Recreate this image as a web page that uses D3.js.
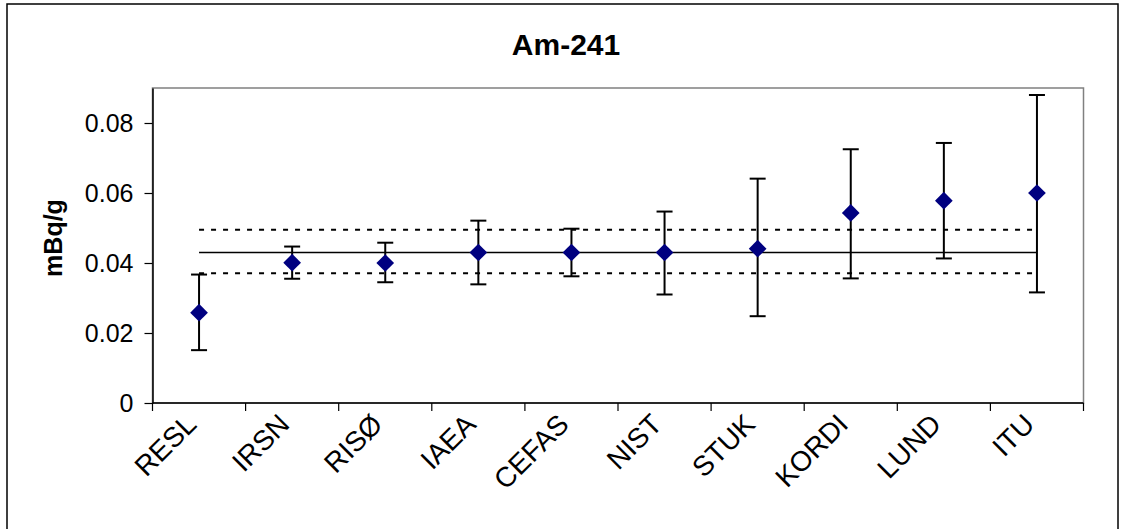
<!DOCTYPE html>
<html>
<head>
<meta charset="utf-8">
<script src="https://cdn.jsdelivr.net/npm/d3@7"></script>
<style>
  html, body { margin: 0; padding: 0; background: #fff; }
  svg { display: block; font-family: "Liberation Sans", Arial, sans-serif; }
</style>
</head>
<body>
<svg id="chart" width="1125" height="529"></svg>
<script>
// ---- data ----
const categories = ["RESL", "IRSN", "RISØ", "IAEA", "CEFAS", "NIST", "STUK", "KORDI", "LUND", "ITU"];
const values     = [0.0258, 0.0401, 0.0400, 0.0430, 0.0430, 0.0430, 0.0441, 0.0543, 0.0578, 0.0600];
const errLow     = [0.0151, 0.0355, 0.0345, 0.0339, 0.0362, 0.0310, 0.0248, 0.0356, 0.0413, 0.0316];
const errHigh    = [0.0367, 0.0447, 0.0458, 0.0521, 0.0498, 0.0547, 0.0641, 0.0725, 0.0743, 0.0880];
const refMean    = 0.0430;
const refLow     = 0.0371;
const refHigh    = 0.0495;
const yTicks     = [0, 0.02, 0.04, 0.06, 0.08];
const yTickLabels = ["0", "0.02", "0.04", "0.06", "0.08"];
const title = "Am-241";
const yTitle = "mBq/g";

// ---- layout ----
const svg = d3.select("#chart");
const plot = { left: 152.5, right: 1083.5, top: 88, bottom: 403 };

const x = d3.scaleBand().domain(categories).range([plot.left, plot.right]).padding(0);
const y = d3.scaleLinear().domain([0, 0.09]).range([plot.bottom, plot.top]);
const cx = c => x(c) + x.bandwidth() / 2;

// outer border
svg.append("rect").attr("x", 7).attr("y", 4).attr("width", 1111).attr("height", 530)
  .attr("fill", "none").attr("stroke", "#000").attr("stroke-width", 1.5);

// plot area border (gray)
svg.append("rect").attr("x", plot.left).attr("y", plot.top)
  .attr("width", plot.right - plot.left).attr("height", plot.bottom - plot.top)
  .attr("fill", "none").attr("stroke", "#808080").attr("stroke-width", 1.5);

// title
svg.append("text").attr("x", 566).attr("y", 55).attr("text-anchor", "middle")
  .attr("font-size", 30).attr("font-weight", "bold").text(title);

// y axis
const yAxis = d3.axisLeft(y).tickValues(yTicks).tickFormat((d, i) => yTickLabels[i])
  .tickSizeInner(8).tickSizeOuter(0).tickPadding(11);
const gy = svg.append("g").attr("transform", `translate(${plot.left},0)`).call(yAxis);
gy.attr("font-size", 25).attr("font-family", "Liberation Sans, Arial, sans-serif");
gy.select(".domain").attr("stroke", "#000").attr("stroke-width", 1.5);
gy.selectAll(".tick line").attr("stroke", "#000").attr("stroke-width", 1.2);
gy.selectAll(".tick text").attr("fill", "#000");

// y title
svg.append("text").attr("transform", `translate(62,238) rotate(-90)`)
  .attr("text-anchor", "middle").attr("font-size", 25).attr("font-weight", "bold").text(yTitle);

// x axis: ticks at category boundaries
const boundaries = categories.map(c => x(c)).concat([plot.right]);
svg.append("line").attr("x1", plot.left).attr("x2", plot.right)
  .attr("y1", plot.bottom).attr("y2", plot.bottom).attr("stroke", "#000").attr("stroke-width", 1.5);
svg.append("g").selectAll("line").data(boundaries).join("line")
  .attr("x1", d => d).attr("x2", d => d).attr("y1", plot.bottom).attr("y2", plot.bottom + 8)
  .attr("stroke", "#000").attr("stroke-width", 1.2);

// x labels rotated
svg.append("g").selectAll("text").data(categories).join("text")
  .attr("transform", d => `translate(${cx(d) - 1},${plot.bottom + 23}) rotate(-45)`)
  .attr("text-anchor", "end").attr("font-size", 28).text(d => d);

// reference lines
const x0 = cx(categories[0]), x1 = cx(categories[categories.length - 1]);
svg.append("line").attr("x1", x0).attr("x2", x1).attr("y1", y(refMean)).attr("y2", y(refMean))
  .attr("stroke", "#000").attr("stroke-width", 1.5);
[refLow, refHigh].forEach(v => {
  svg.append("line").attr("x1", x0).attr("x2", x1).attr("y1", y(v)).attr("y2", y(v))
    .attr("stroke", "#000").attr("stroke-width", 2).attr("stroke-dasharray", "5,7");
});

// error bars
const eb = svg.append("g").selectAll("g").data(categories).join("g");
eb.append("line").attr("x1", d => cx(d)).attr("x2", d => cx(d))
  .attr("y1", (d, i) => y(errLow[i])).attr("y2", (d, i) => y(errHigh[i]))
  .attr("stroke", "#000").attr("stroke-width", 2);
eb.append("line").attr("x1", d => cx(d) - 8).attr("x2", d => cx(d) + 8)
  .attr("y1", (d, i) => y(errLow[i])).attr("y2", (d, i) => y(errLow[i]))
  .attr("stroke", "#000").attr("stroke-width", 2);
eb.append("line").attr("x1", d => cx(d) - 8).attr("x2", d => cx(d) + 8)
  .attr("y1", (d, i) => y(errHigh[i])).attr("y2", (d, i) => y(errHigh[i]))
  .attr("stroke", "#000").attr("stroke-width", 2);

// diamonds
const diamond = d3.symbol().type(d3.symbolDiamond2).size(200);
svg.append("g").selectAll("path").data(categories).join("path")
  .attr("d", diamond)
  .attr("transform", (d, i) => `translate(${cx(d)},${y(values[i])})`)
  .attr("fill", "#000080");
</script>
</body>
</html>
